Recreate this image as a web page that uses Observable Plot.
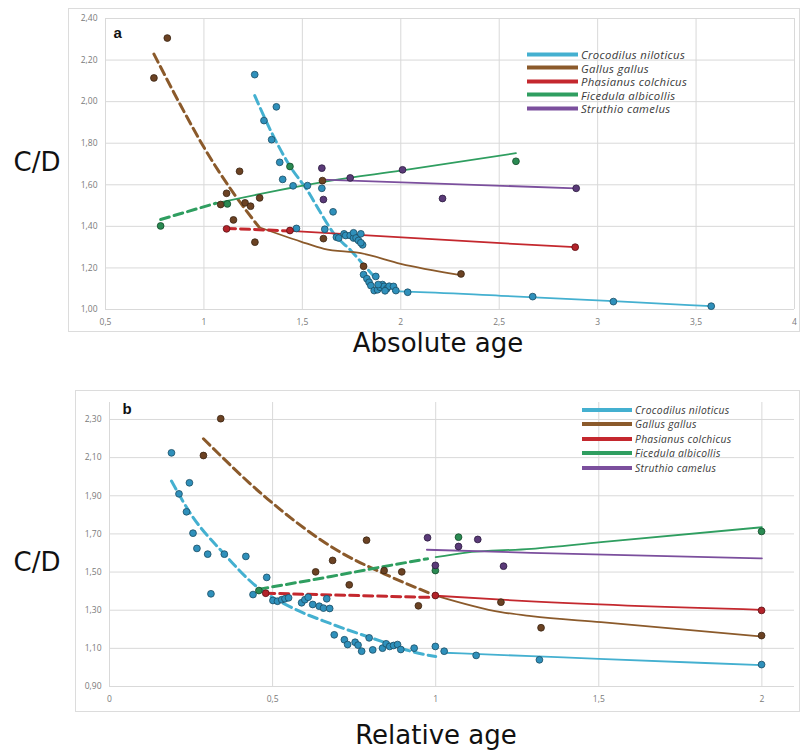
<!DOCTYPE html>
<html><head><meta charset="utf-8">
<script src="https://cdn.jsdelivr.net/npm/d3@7"></script>
<script src="https://cdn.jsdelivr.net/npm/@observablehq/plot@0.6"></script>
<style>
body{margin:0;background:#fff;}
#root{position:relative;width:802px;height:750px;overflow:hidden;}
.box{position:absolute;border:1px solid #dcdcdc;box-sizing:border-box;}
.holder{position:absolute;}
.title{position:absolute;font-family:"DejaVu Sans",sans-serif;color:#111;white-space:nowrap;transform:translate(-50%,-50%);line-height:1;}
.lrow{position:absolute;display:flex;align-items:center;font-family:"Open Sans",sans-serif;font-style:italic;color:#3a3a3a;white-space:nowrap;transform:translateY(-50%);}
.lrow .sw{display:inline-block;height:4px;margin-right:3px;}
</style></head>
<body><div id="root"></div>
<script>
// ---------- shared ----------
const species = ["Crocodilus niloticus","Gallus gallus","Phasianus colchicus","Ficedula albicollis","Struthio camelus"];
const lineColors = ["#44b0d0","#8b5a2b","#c4282e","#2f9e60","#7b4f9d"];
const dotFills   = ["#2f90bb","#6b4223","#b3232a","#2a8a52","#5a3a78"];
const dotStrokes = ["#1b4d63","#3a2413","#5a1014","#134a2a","#2b1a3d"];

// ---------- panel a : absolute age ----------
const xTicksA = [0.5,1,1.5,2,2.5,3,3.5,4];
const yTicksA = [1.0,1.2,1.4,1.6,1.8,2.0,2.2,2.4];

const crocA = [[1.258,2.13],[1.368,1.975],[1.305,1.909],[1.344,1.817],[1.385,1.708],[1.40,1.626],[1.453,1.595],[1.526,1.596],[1.599,1.583],[1.656,1.47],[1.614,1.386],[1.47,1.39],
 [1.673,1.348],[1.685,1.344],[1.712,1.364],[1.72,1.356],[1.743,1.356],[1.76,1.344],[1.76,1.369],[1.773,1.344],[1.785,1.332],[1.797,1.364],[1.806,1.311],[1.797,1.321],
 [1.811,1.168],[1.828,1.148],[1.873,1.159],[1.839,1.131],[1.848,1.115],[1.865,1.091],[1.882,1.095],[1.895,1.107],[1.907,1.12],[1.915,1.111],[1.929,1.1],[1.941,1.112],[1.963,1.111],[1.975,1.091],[2.035,1.083],[1.885,1.12],[1.92,1.09],
 [2.67,1.062],[3.08,1.038],[3.577,1.016]];
const crocADash = [[1.258,2.029],[1.356,1.828],[1.441,1.684],[1.526,1.572],[1.59,1.47],[1.661,1.364],[1.746,1.284],[1.814,1.212],[1.882,1.139]];
const crocASolid = [[1.96,1.088],[2.035,1.086],[2.509,1.066],[3.08,1.04],[3.577,1.016]];

const gallusA = [[0.814,2.306],[0.746,2.114],[1.181,1.665],[1.115,1.559],[1.085,1.505],[1.209,1.513],[1.237,1.497],[1.283,1.537],[1.15,1.431],[1.259,1.324],[1.602,1.62],[1.607,1.341],[1.811,1.208],[2.306,1.171]];
const gallusADash = [[0.746,2.229],[0.9,1.95],[1.0,1.78],[1.15,1.56],[1.28,1.396]];
const gallusASolid = [[1.28,1.396],[1.492,1.327],[1.61,1.292],[1.797,1.271],[2.0,1.22],[2.289,1.168]];

const phasA = [[1.115,1.388],[1.437,1.38],[2.886,1.30]];
const phasADash = [[1.115,1.39],[1.437,1.378]];
const phasASolid = [[1.437,1.378],[2.509,1.319],[2.886,1.30]];

const ficA = [[0.78,1.402],[1.119,1.508],[1.437,1.688],[2.585,1.713]];
const ficADash = [[0.78,1.433],[1.06,1.511]];
const ficASolid = [[1.06,1.511],[1.645,1.62],[2.0,1.668],[2.585,1.752]];

const struA = [[1.599,1.68],[1.607,1.529],[1.743,1.633],[2.009,1.672],[2.212,1.534],[2.891,1.583]];
const struADash = [];
const struASolid = [[1.6,1.625],[2.891,1.583]];

// ---------- panel b : relative age ----------
const xTicksB = [0,0.5,1,1.5,2];
const yTicksB = [0.9,1.1,1.3,1.5,1.7,1.9,2.1,2.3];

const crocB = [[0.19,2.125],[0.213,1.91],[0.245,1.968],[0.236,1.816],[0.256,1.704],[0.268,1.624],[0.301,1.594],[0.311,1.386],[0.352,1.594],[0.418,1.582],[0.44,1.382],[0.482,1.472],
 [0.501,1.351],[0.515,1.347],[0.528,1.355],[0.538,1.36],[0.549,1.365],
 [0.589,1.339],[0.599,1.355],[0.609,1.368],[0.623,1.33],[0.643,1.321],[0.656,1.311],[0.675,1.309],[0.666,1.36],
 [0.689,1.171],[0.72,1.145],[0.73,1.12],[0.753,1.132],[0.762,1.117],[0.773,1.085],[0.796,1.155],[0.807,1.092],[0.837,1.101],[0.848,1.124],[0.859,1.11],[0.871,1.115],[0.883,1.12],[0.893,1.094],[0.934,1.101],[0.999,1.11],[1.026,1.085],[1.124,1.063],[1.318,1.04],[1.999,1.015]];
const crocBDash = [[0.19,1.977],[0.249,1.805],[0.351,1.596],[0.453,1.421],[0.556,1.316],[0.679,1.229],[0.832,1.138],[0.934,1.08],[1.0,1.057]];
const crocBSolid = [[1.026,1.077],[1.293,1.059],[1.5,1.045],[1.999,1.012]];

const gallusB = [[0.341,2.304],[0.288,2.111],[0.788,1.667],[0.684,1.561],[0.632,1.501],[0.735,1.433],[0.842,1.508],[0.896,1.501],[0.947,1.323],[1.2,1.342],[1.323,1.208],[1.999,1.167]];
const gallusBDash = [[0.288,2.199],[0.484,1.884],[0.699,1.613],[0.842,1.491],[0.986,1.386]];
const gallusBSolid = [[1.0,1.377],[1.2,1.29],[1.293,1.269],[1.507,1.237],[2.0,1.162]];

const phasB = [[0.479,1.389],[0.999,1.377],[1.999,1.299]];
const phasBDash = [[0.479,1.389],[0.986,1.367]];
const phasBSolid = [[1.0,1.376],[1.293,1.346],[2.0,1.302]];

const ficB = [[0.458,1.403],[0.999,1.508],[1.07,1.683],[1.999,1.713]];
const ficBDash = [[0.458,1.41],[0.679,1.477],[0.832,1.526],[0.975,1.57]];
const ficBSolid = [[1.0,1.578],[1.088,1.601],[1.293,1.622],[1.507,1.657],[2.0,1.735]];

const struB = [[0.975,1.68],[0.999,1.535],[1.07,1.634],[1.129,1.671],[1.208,1.531]];
const struBDash = [];
const struBSolid = [[0.973,1.617],[1.293,1.601],[2.0,1.572]];

// ---------- build ----------
const root = document.getElementById("root");
const fmtY = d => d.toFixed(2).replace(".", ",");
const fmtX = d => String(d).replace(".", ",");

function panel(cfg) {
  const marks = [
    Plot.gridY(cfg.yTicks, {stroke:"#d9d9d9", strokeOpacity:1, strokeWidth:1}),
    Plot.gridX(cfg.xTicks, {stroke:"#d9d9d9", strokeOpacity:1, strokeWidth:1}),
    Plot.axisY(cfg.yTicks, {tickSize:0, tickPadding:8, tickFormat:fmtY, fill:"#7a7a7a", fontSize:8.5, label:null}),
    Plot.axisX(cfg.xTicks, {tickSize:0, tickPadding:9, tickFormat:fmtX, fill:"#7a7a7a", fontSize:8.5, label:null})
  ];
  cfg.series.forEach((s, i) => {
    if (s.dash.length) marks.push(Plot.line(s.dash, {x:d=>d[0], y:d=>d[1], stroke:lineColors[i], strokeWidth:3, strokeDasharray:"9,5", curve:"monotone-x"}));
    if (s.solid.length) marks.push(Plot.line(s.solid, {x:d=>d[0], y:d=>d[1], stroke:lineColors[i], strokeWidth:1.8, curve:"monotone-x"}));
  });
  cfg.series.forEach((s, i) => {
    marks.push(Plot.dot(s.pts, {x:d=>d[0], y:d=>d[1], r:3.4, fill:dotFills[i], stroke:dotStrokes[i], strokeWidth:0.8}));
  });
  marks.push(Plot.text([cfg.tag], {frameAnchor:"top-left", dx:cfg.tagDx, dy:cfg.tagDy, fontWeight:"bold", fontSize:15, fill:"#111", fontFamily:"Liberation Sans"}));

  const svg = Plot.plot({
    width: cfg.w, height: cfg.h,
    marginLeft: cfg.ml, marginRight: cfg.mr, marginTop: cfg.mt, marginBottom: cfg.mb,
    x: {domain: cfg.xDomain},
    y: {domain: cfg.yDomain},
    style: {fontFamily:"Open Sans, sans-serif", background:"transparent", overflow:"visible"},
    marks
  });
  const box = document.createElement("div");
  box.className = "box";
  Object.assign(box.style, {left:cfg.left+"px", top:cfg.top+"px", width:cfg.w+"px", height:cfg.h+"px"});
  root.appendChild(box);
  const holder = document.createElement("div");
  holder.className = "holder";
  Object.assign(holder.style, {left:cfg.left+"px", top:cfg.top+"px"});
  holder.appendChild(svg);
  root.appendChild(holder);

  // legend
  species.forEach((name, i) => {
    const row = document.createElement("div");
    row.className = "lrow";
    Object.assign(row.style, {left: cfg.legX+"px", top:(cfg.legY + i*cfg.legStep)+"px", fontSize: cfg.legFont+"px", letterSpacing: cfg.legLs+"px"});
    const sw = document.createElement("span");
    sw.className = "sw";
    Object.assign(sw.style, {width: cfg.legW+"px", background: lineColors[i]});
    row.appendChild(sw);
    row.appendChild(document.createTextNode(name));
    root.appendChild(row);
  });
}

function title(text, x, y, size) {
  const t = document.createElement("div");
  t.className = "title";
  t.textContent = text;
  Object.assign(t.style, {left:x+"px", top:y+"px", fontSize:size+"px"});
  root.appendChild(t);
}

panel({
  tag:"a", tagDx:8, tagDy:9,
  left:68, top:8, w:732, h:324, ml:37, mr:6, mt:10, mb:23,
  xDomain:[0.5,4], yDomain:[1.0,2.4], xTicks:xTicksA, yTicks:yTicksA,
  series:[
    {pts:crocA, dash:crocADash, solid:crocASolid},
    {pts:gallusA, dash:gallusADash, solid:gallusASolid},
    {pts:phasA, dash:phasADash, solid:phasASolid},
    {pts:ficA, dash:ficADash, solid:ficASolid},
    {pts:struA, dash:struADash, solid:struASolid}
  ],
  legX:527, legY:54, legStep:13.6, legW:51, legFont:11.3, legLs:0.35
});

panel({
  tag:"b", tagDx:13, tagDy:1,
  left:75, top:390, w:725, h:322, ml:34, mr:6, mt:12, mb:26,
  xDomain:[0,2.1], yDomain:[0.9,2.389], xTicks:xTicksB, yTicks:yTicksB,
  series:[
    {pts:crocB, dash:crocBDash, solid:crocBSolid},
    {pts:gallusB, dash:gallusBDash, solid:gallusBSolid},
    {pts:phasB, dash:phasBDash, solid:phasBSolid},
    {pts:ficB, dash:ficBDash, solid:ficBSolid},
    {pts:struB, dash:struBDash, solid:struBSolid}
  ],
  legX:582, legY:409.5, legStep:14.5, legW:50, legFont:10.3, legLs:0.3
});

title("C/D", 37, 162, 26);
title("Absolute age", 438, 343, 26);
title("C/D", 37, 562, 26);
title("Relative age", 436, 735, 26);
</script>
</body></html>
